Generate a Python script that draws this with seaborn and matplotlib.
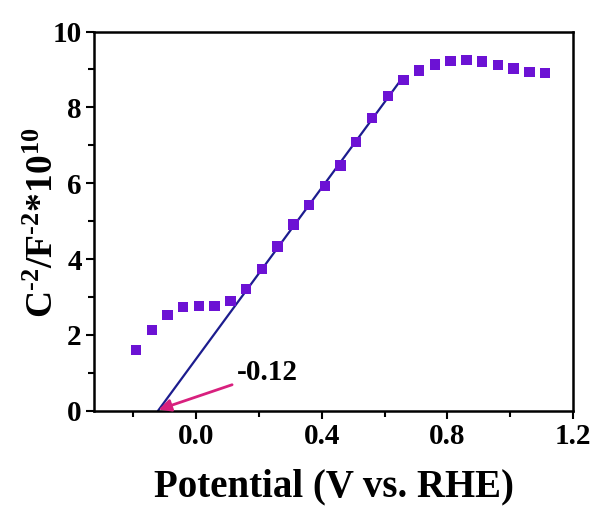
import matplotlib
matplotlib.use("Agg")
import matplotlib.pyplot as plt
from matplotlib.ticker import MultipleLocator
import seaborn as sns
import pandas as pd

# ---- 数据 ----
potential = [-0.19, -0.14, -0.09, -0.04, 0.01, 0.06, 0.11, 0.16, 0.21, 0.26,
             0.31, 0.36, 0.41, 0.46, 0.51, 0.56, 0.61, 0.66, 0.71, 0.76,
             0.81, 0.86, 0.91, 0.96, 1.01, 1.06, 1.11]
inv_c2 = [1.60, 2.13, 2.52, 2.73, 2.77, 2.77, 2.89, 3.21, 3.74, 4.33,
          4.91, 5.42, 5.93, 6.47, 7.09, 7.72, 8.30, 8.73, 8.97, 9.13,
          9.23, 9.25, 9.21, 9.12, 9.03, 8.93, 8.91]
fit_x = [-0.12, 0.655]
fit_y = [0.0, 8.76]
x_ticks = [0.0, 0.4, 0.8, 1.2]
y_ticks = [0, 2, 4, 6, 8, 10]

sns.set_style("ticks")
plt.rcParams["font.family"] = ["Liberation Serif", "DejaVu Serif"]
plt.rcParams["font.weight"] = "bold"
plt.rcParams["mathtext.fontset"] = "custom"
plt.rcParams["mathtext.rm"] = "Liberation Serif:bold"
plt.rcParams["mathtext.bf"] = "Liberation Serif:bold"
plt.rcParams["mathtext.it"] = "Liberation Serif:bold"
plt.rcParams["mathtext.default"] = "bf"
# 全部文字和刻度用纯黑
for key in ["text.color", "axes.labelcolor", "xtick.color", "ytick.color", "axes.edgecolor"]:
    plt.rcParams[key] = "black"

df = pd.DataFrame({"x": potential, "y": inv_c2})
df_fit = pd.DataFrame({"x": fit_x, "y": fit_y})

fig = plt.figure(figsize=(5.96, 5.09), dpi=100)
ax = fig.add_axes([0.158, 0.193, 0.804, 0.745])

sns.scatterplot(data=df, x="x", y="y", marker="s", s=56, color="#6C12D4",
                edgecolor="none", ax=ax, zorder=3)
sns.lineplot(data=df_fit, x="x", y="y", color="#1C1C8E", linewidth=1.6, ax=ax, zorder=2)

ax.annotate("-0.12", xy=(-0.118, 0.03), xytext=(0.13, 1.0),
            fontsize=21, fontweight="bold", ha="left", va="center",
            arrowprops=dict(arrowstyle="-|>", color="#D8207E", lw=2,
                            mutation_scale=18, shrinkA=1, shrinkB=0))

ax.set_xlim(-0.323, 1.2)
ax.set_ylim(0, 10)
ax.set_xticks(x_ticks)
ax.set_yticks(y_ticks)
ax.xaxis.set_minor_locator(MultipleLocator(0.2))
ax.yaxis.set_minor_locator(MultipleLocator(1))
ax.set_xticklabels([f"{v:.1f}" for v in x_ticks])
ax.tick_params(which="major", direction="out", length=6, width=1.5, labelsize=21, pad=3)
ax.tick_params(which="minor", direction="out", length=4, width=1.5)
for lab in ax.get_xticklabels() + ax.get_yticklabels():
    lab.set_fontweight("bold")
for sp in ax.spines.values():
    sp.set_visible(True)
    sp.set_linewidth(1.8)
    sp.set_color("black")

ax.set_xlabel("Potential (V vs. RHE)", fontsize=28, fontweight="bold", labelpad=13)
ax.set_ylabel("C$^{\u20102}$/F$^{\u20102}$*10$^{10}$", fontsize=27, fontweight="bold")
ax.yaxis.set_label_coords(-0.07, 0.495)

fig.savefig("out.png", dpi=100)
